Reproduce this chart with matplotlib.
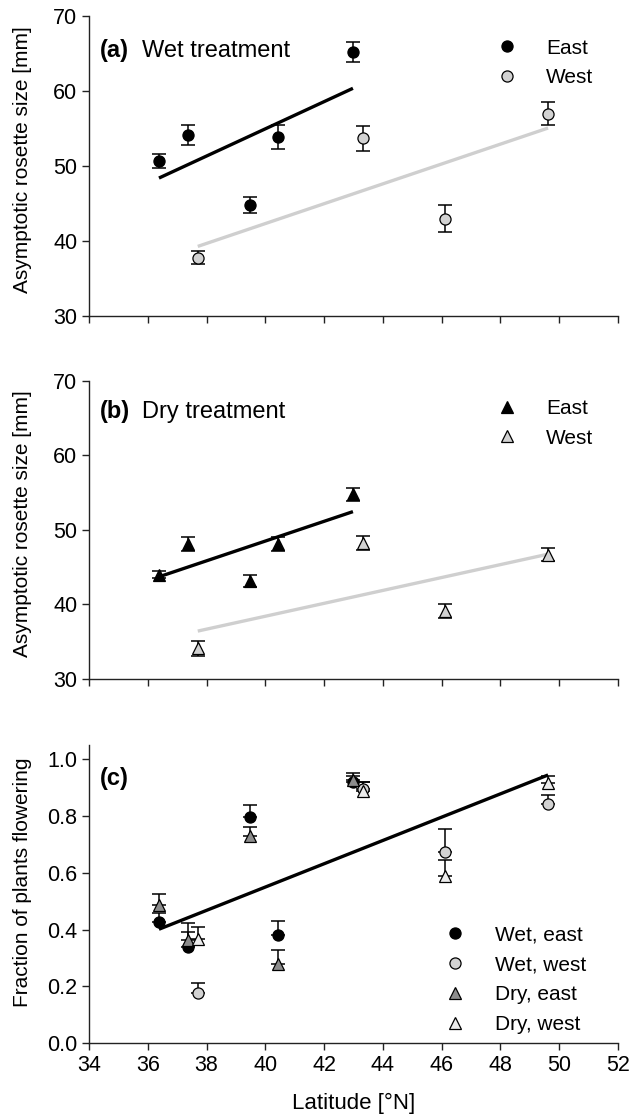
import numpy as np
import matplotlib
matplotlib.use("Agg")
import matplotlib.pyplot as plt

plt.rcParams["font.family"] = ["Liberation Sans", "DejaVu Sans"]

# latitudes of the sampled populations
lat_east = [36.38, 37.38, 39.47, 40.42, 42.98]
lat_west = [37.70, 43.33, 46.10, 49.62]

# (a) wet treatment, asymptotic rosette size (mm) +- SE
wet_size_east = [50.7, 54.1, 44.8, 53.9, 65.2]
wet_size_east_se = [0.95, 1.35, 1.1, 1.6, 1.3]
wet_size_west = [37.8, 53.7, 43.0, 57.0]
wet_size_west_se = [0.85, 1.65, 1.75, 1.5]

# (b) dry treatment
dry_size_east = [44.0, 48.1, 43.1, 48.1, 54.8]
dry_size_east_se = [0.5, 0.9, 0.8, 0.9, 0.85]
dry_size_west = [34.1, 48.3, 39.1, 46.7]
dry_size_west_se = [0.95, 0.95, 0.9, 0.85]

# (c) fraction of plants flowering, upper SE only
wet_flower_east = [0.428, 0.338, 0.795, 0.381, 0.921]
wet_flower_east_se = [0.03, 0.052, 0.045, 0.05, 0.02]
wet_flower_west = [0.178, 0.894, 0.672, 0.841]
wet_flower_west_se = [0.034, 0.027, 0.081, 0.033]
dry_flower_east = [0.485, 0.364, 0.73, 0.279, 0.927]
dry_flower_east_se = [0.04, 0.058, 0.03, 0.049, 0.023]
dry_flower_west = [0.368, 0.888, 0.59, 0.915]
dry_flower_west_se = [0.042, 0.032, 0.055, 0.027]

x_ticks = np.arange(34, 53, 2)

LIGHT = "#d2d2d2"
LINE_GREY = "#cfcfcf"
AXIS_COL = "#222222"


def style_axis(ax, ylim, yticks, fmt, show_xlabels):
    for side in ("top", "right"):
        ax.spines[side].set_visible(False)
    for side in ("left", "bottom"):
        ax.spines[side].set_color(AXIS_COL)
        ax.spines[side].set_linewidth(1.0)
    ax.set_xlim(34, 52)
    ax.set_ylim(*ylim)
    ax.set_xticks(x_ticks)
    ax.set_yticks(yticks)
    ax.set_yticklabels([fmt.format(v) for v in yticks])
    ax.tick_params(direction="out", length=5, width=1, color=AXIS_COL,
                   labelsize=15.5)
    if not show_xlabels:
        ax.set_xticklabels([])


def fit_line(ax, x, y, color):
    x = np.asarray(x)
    k, b = np.polyfit(x, y, 1)
    xs = np.array([x.min(), x.max()])
    ax.plot(xs, k * xs + b, color=color, lw=2.4, solid_capstyle="butt",
            zorder=2)


def panel_label(ax, letter, text, y):
    ax.text(0.021, y, letter, transform=ax.transAxes, fontsize=17,
            fontweight="bold", va="baseline")
    ax.text(0.1, y, text, transform=ax.transAxes, fontsize=17,
            va="baseline")


def errpts(ax, x, y, err, marker, face, ms, label, upper_only=False):
    yerr = [np.zeros(len(err)), err] if upper_only else err
    ax.errorbar(x, y, yerr=yerr, fmt="none", ecolor="black", elinewidth=1.1,
                capsize=5, capthick=1.1, zorder=3)
    ax.plot(x, y, linestyle="none", marker=marker, ms=ms, mfc=face,
            mec="black", mew=0.9, label=label, zorder=4)


def add_legend(ax, x, y):
    ax.legend(loc="upper left", bbox_to_anchor=(x, y), frameon=False,
              fontsize=15, handlelength=1.0, handletextpad=1.4,
              labelspacing=0.52, borderpad=0, borderaxespad=0)


def ylabel(ax, text, ypos):
    ax.set_ylabel(text, fontsize=15)
    ax.yaxis.set_label_coords(-0.108, ypos)


fig = plt.figure(figsize=(6.3, 11.14), dpi=100)
left, width = 0.1413, 0.8397

# ---- (a) wet treatment
ax1 = fig.add_axes([left, 0.7163, width, 0.2693])
fit_line(ax1, lat_east, wet_size_east, "black")
fit_line(ax1, lat_west, wet_size_west, LINE_GREY)
errpts(ax1, lat_east, wet_size_east, wet_size_east_se, "o", "black", 8, "East")
errpts(ax1, lat_west, wet_size_west, wet_size_west_se, "o", LIGHT, 8, "West")
style_axis(ax1, (30, 70), [30, 40, 50, 60, 70], "{:.0f}", False)
ylabel(ax1, "Asymptotic rosette size [mm]", 0.52)
panel_label(ax1, "(a)", "Wet treatment", 0.864)
add_legend(ax1, 0.77, 0.925)

# ---- (b) dry treatment
ax2 = fig.add_axes([left, 0.3905, width, 0.2675])
fit_line(ax2, lat_east, dry_size_east, "black")
fit_line(ax2, lat_west, dry_size_west, LINE_GREY)
errpts(ax2, lat_east, dry_size_east, dry_size_east_se, "^", "black", 9, "East")
errpts(ax2, lat_west, dry_size_west, dry_size_west_se, "^", LIGHT, 9, "West")
style_axis(ax2, (30, 70), [30, 40, 50, 60, 70], "{:.0f}", False)
ylabel(ax2, "Asymptotic rosette size [mm]", 0.52)
panel_label(ax2, "(b)", "Dry treatment", 0.877)
add_legend(ax2, 0.77, 0.94)

# ---- (c) flowering
ax3 = fig.add_axes([left, 0.0635, width, 0.2678])
all_x = lat_east + lat_west + lat_east + lat_west
all_y = wet_flower_east + wet_flower_west + dry_flower_east + dry_flower_west
fit_line(ax3, all_x, all_y, "black")
errpts(ax3, lat_east, wet_flower_east, wet_flower_east_se, "o", "black", 8,
       "Wet, east", upper_only=True)
errpts(ax3, lat_west, wet_flower_west, wet_flower_west_se, "o", LIGHT, 8,
       "Wet, west", upper_only=True)
errpts(ax3, lat_east, dry_flower_east, dry_flower_east_se, "^", "#8c8c8c", 9,
       "Dry, east", upper_only=True)
errpts(ax3, lat_west, dry_flower_west, dry_flower_west_se, "^", "#ececec", 9,
       "Dry, west", upper_only=True)
style_axis(ax3, (0, 1.05), [0.0, 0.2, 0.4, 0.6, 0.8, 1.0], "{:.1f}", True)
ylabel(ax3, "Fraction of plants flowering", 0.54)
ax3.set_xlabel("Latitude [°N]", fontsize=16, labelpad=12)
ax3.text(0.021, 0.866, "(c)", transform=ax3.transAxes, fontsize=17,
         fontweight="bold", va="baseline")
add_legend(ax3, 0.673, 0.395)

fig.savefig("out.png", dpi=100)
